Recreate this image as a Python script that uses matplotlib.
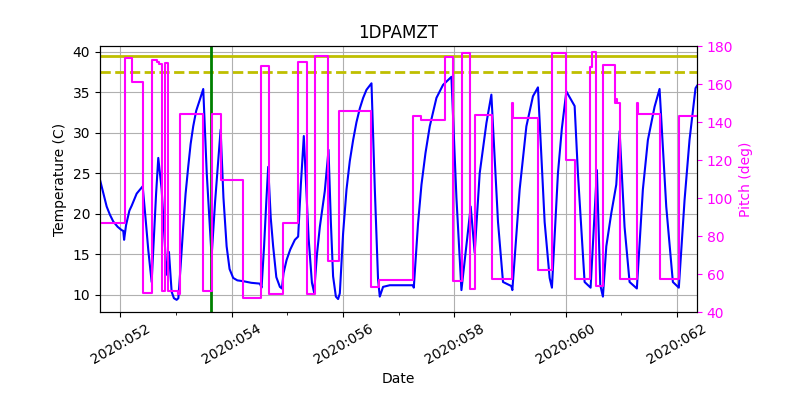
import matplotlib
matplotlib.use("Agg")
import matplotlib.pyplot as plt
from matplotlib.ticker import FuncFormatter, MultipleLocator

# time in day-of-year 2020
temp_days = [
    51.632, 51.70, 51.752, 51.81, 51.871, 51.95, 52.020, 52.050, 52.065, 52.10,
    52.16, 52.201, 52.25, 52.291, 52.35, 52.399, 52.45, 52.50, 52.560, 52.60,
    52.64, 52.679, 52.740, 52.829, 52.871, 52.919, 52.96, 53.009, 53.04, 53.08,
    53.127, 53.17, 53.217, 53.26, 53.307, 53.36, 53.427, 53.487, 53.55, 53.637,
    53.70, 53.799, 53.85, 53.907, 53.96, 54.025, 54.10, 54.205, 54.35, 54.504,
    54.535, 54.58, 54.62, 54.654, 54.70, 54.743, 54.80, 54.864, 54.90, 54.93,
    54.984, 55.05, 55.133, 55.192, 55.24, 55.294, 55.38, 55.44, 55.479, 55.53,
    55.582, 55.671, 55.738, 55.78, 55.820, 55.87, 55.910, 55.941, 56.000, 56.061,
    56.12, 56.180, 56.24, 56.300, 56.36, 56.420, 56.510, 56.57, 56.628, 56.659,
    56.718, 56.838, 57.257, 57.27, 57.346, 57.408, 57.48, 57.557, 57.677, 57.795,
    57.946, 58.036, 58.126, 58.293, 58.364, 58.454, 58.575, 58.664, 58.783, 58.873,
    59.023, 59.041, 59.172, 59.293, 59.411, 59.501, 59.621, 59.711, 59.752, 59.860,
    59.93, 60.011, 60.160, 60.219, 60.339, 60.447, 60.560, 60.621, 60.668, 60.729,
    60.819, 60.908, 60.968, 61.057, 61.147, 61.278, 61.386, 61.476, 61.596, 61.686,
    61.806, 61.925, 62.032, 62.135, 62.224, 62.332, 62.36,
]
temp_vals = [
    24.2, 22.3, 20.9, 19.9, 19.05, 18.4, 18.0, 17.9, 16.8, 18.6,
    20.4, 21.0, 21.8, 22.5, 23.0, 23.4, 19.5, 15.5, 11.6, 17.0,
    22.5, 26.9, 23.0, 12.5, 15.3, 10.4, 9.6, 9.4, 9.6, 13.5,
    18.4, 22.5, 25.8, 28.6, 30.8, 32.7, 34.1, 35.4, 25.0, 14.7,
    21.5, 30.4, 22.0, 16.0, 13.2, 12.1, 11.8, 11.7, 11.5, 11.4,
    10.9, 16.0, 21.5, 25.8, 19.5, 16.0, 12.2, 11.0, 10.8, 12.7,
    14.3, 15.6, 16.8, 17.2, 23.5, 29.6, 17.0, 11.5, 10.3, 15.0,
    18.4, 22.8, 27.9, 19.0, 12.3, 9.8, 9.5, 10.2, 17.6, 23.0,
    26.5, 29.1, 31.3, 33.0, 34.3, 35.3, 36.1, 23.0, 11.9, 9.8,
    11.0, 11.2, 11.2, 10.9, 18.8, 23.6, 27.5, 30.8, 34.3, 35.9,
    36.9, 22.0, 10.6, 20.9, 15.2, 25.0, 31.2, 34.7, 19.0, 11.6,
    11.1, 10.6, 23.0, 30.8, 34.5, 35.6, 19.0, 12.1, 10.9, 25.0,
    30.5, 35.1, 33.3, 25.0, 11.6, 10.9, 25.4, 11.2, 9.8, 16.0,
    20.1, 23.6, 30.2, 18.4, 11.6, 10.8, 23.0, 29.1, 33.2, 35.4,
    20.9, 11.6, 10.9, 21.7, 29.1, 35.5, 35.8,
]

pitch_days = [
    51.632, 52.081, 52.212, 52.409, 52.560, 52.65, 52.70, 52.740, 52.799, 52.858,
    53.03, 53.068, 53.487, 53.637, 53.799, 54.194, 54.517, 54.671, 54.912, 55.192,
    55.343, 55.492, 55.720, 55.928, 56.510, 56.646, 57.257, 57.408, 57.831, 57.975,
    58.131, 58.275, 58.364, 58.675, 59.041, 59.05, 59.501, 59.752, 60.011, 60.160,
    60.429, 60.47, 60.537, 60.668, 60.890, 60.91, 60.93, 60.968, 61.278, 61.29,
    61.698, 62.032, 62.36,
]
pitch_vals = [
    87.0, 173.5, 161.0, 50.0, 172.8, 171.5, 170.5, 51.0, 171.0, 51.0,
    49.5, 144.0, 51.0, 144.0, 109.7, 47.2, 169.6, 49.5, 87.0, 171.7,
    49.5, 174.5, 67.0, 145.8, 53.4, 56.9, 143.2, 141.0, 174.4, 56.5,
    176.3, 52.0, 143.5, 57.3, 150.0, 142.3, 62.2, 176.3, 120.0, 57.4,
    168.7, 177.0, 53.7, 170.0, 150.2, 152.0, 150.2, 57.4, 150.0, 144.0,
    57.4, 143.2, 143.2,
]

planning_limit = 39.5
yellow_limit = 37.5
now_day = 53.62

fig = plt.figure(figsize=(8, 4), dpi=100)
ax = fig.add_axes([0.125, 0.22, 0.746, 0.665])
ax.plot(temp_days, temp_vals, color="b", linewidth=1.5)
ax.axhline(planning_limit, color="y", linewidth=2)
ax.axhline(yellow_limit, color="y", linewidth=2, linestyle="--")
ax.axvline(now_day, color="g", linewidth=2)
ax.set_xlim(51.632, 62.355)
ax.set_ylim(7.9, 40.7)
ax.set_title("1DPAMZT")
ax.set_xlabel("Date")
ax.set_ylabel("Temperature (C)")
ax.xaxis.set_major_locator(MultipleLocator(2))
ax.xaxis.set_minor_locator(MultipleLocator(1))
ax.xaxis.set_major_formatter(FuncFormatter(lambda v, p: f"2020:{int(round(v)):03d}"))
ax.grid(True)
plt.setp(ax.get_xticklabels(), rotation=30)

ax2 = ax.twinx()
ax2.plot(pitch_days, pitch_vals, color="magenta", linewidth=1.5, drawstyle="steps-post")
ax2.set_ylim(40, 180)
ax2.set_ylabel("Pitch (deg)", color="magenta")
ax2.tick_params(axis="y", colors="magenta")
ax2.set_xlim(51.632, 62.355)

fig.savefig("out.png")
